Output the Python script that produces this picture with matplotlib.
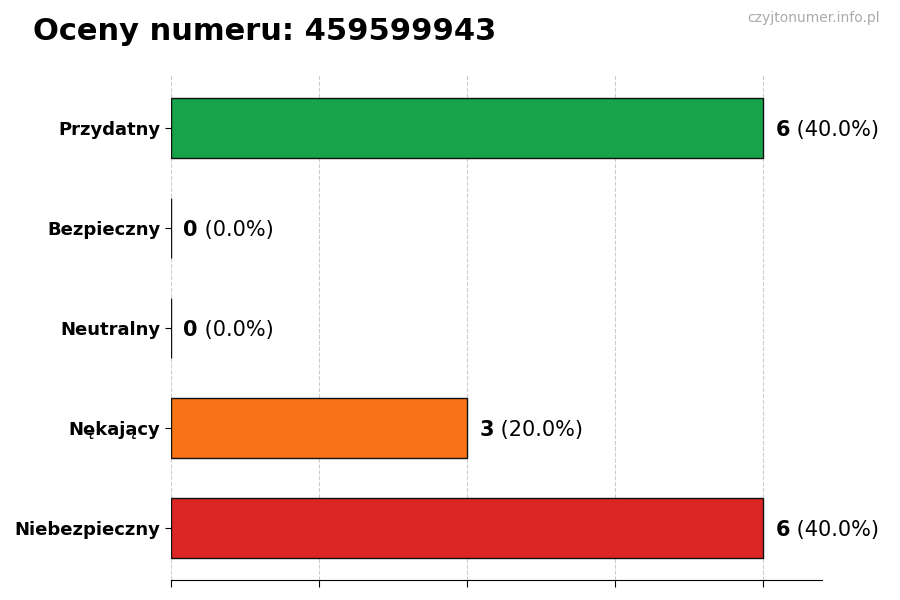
import matplotlib
matplotlib.use("Agg")
import matplotlib.pyplot as plt
import numpy as np

categories = ["Niebezpieczny", "Nękający", "Neutralny", "Bezpieczny", "Przydatny"]
values = [6, 3, 0, 0, 6]
colors = ["#dc2626", "#f97316", "#9ca3af", "#3b82f6", "#16a34a"]
title = "Oceny numeru: 459599943"
watermark = "czyjtonumer.info.pl"

total = sum(values)
vmax = max(values)

fig = plt.figure(figsize=(9, 6), dpi=100)
ax = fig.add_axes([0.19, 0.0333, 0.7233, 0.8417])

y = np.arange(len(categories))
ax.barh(y, values, height=0.6, color=colors, edgecolor="#111111", linewidth=1.0, zorder=3)

ax.set_xlim(0, vmax * 1.1)
ax.set_ylim(-0.52, len(categories) - 0.47)
ax.set_xticks(np.linspace(0, vmax, 5))
ax.set_xticklabels([])
ax.set_yticks(y)
ax.set_yticklabels(categories, fontsize=13, fontweight="bold")
ax.grid(axis="x", linestyle="--", color="#cccccc", linewidth=0.8, zorder=0)
for s in ["top", "right", "left"]:
    ax.spines[s].set_visible(False)
ax.tick_params(axis="x", length=5)
ax.tick_params(axis="y", length=4)

for yi, v in zip(y, values):
    pct = 100.0 * v / total if total else 0
    t1 = ax.annotate(f"{v}", xy=(v, yi), xytext=(9, 0), textcoords="offset points",
                     ha="left", va="center_baseline", fontsize=15, fontweight="bold")
    ax.annotate(f" ({pct:.1f}%)", xy=(1, 0), xycoords=t1, ha="left", va="bottom",
                fontsize=15)

fig.text(0.037, 0.948, title, fontsize=22, fontweight="bold", ha="left", va="center")
fig.text(0.978, 0.97, watermark, fontsize=10, color="#aaaaaa", ha="right", va="center")

fig.savefig("out.png", dpi=100)
